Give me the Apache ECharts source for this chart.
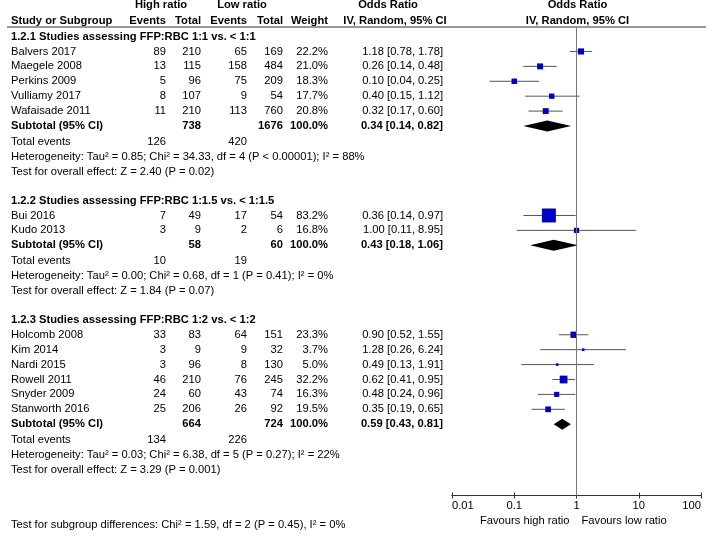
<!DOCTYPE html>
<html><head><meta charset="utf-8">
<script src="https://cdn.jsdelivr.net/npm/echarts@6/dist/echarts.min.js"></script>
<style>html,body{margin:0;padding:0;background:#fff}#c{width:709px;height:537px}</style>
</head><body><div id="c"></div>
<script>
// ---------- data ----------
const tickValues = [0.01, 0.1, 1, 10, 100];
const tickLabels = ['0.01', '0.1', '1', '10', '100'];

const groupTitles = [
  '1.2.1 Studies assessing FFP:RBC 1:1 vs. < 1:1',
  '1.2.2 Studies assessing FFP:RBC 1:1.5 vs. < 1:1.5',
  '1.2.3 Studies assessing FFP:RBC 1:2 vs. < 1:2'
];

const names1 = ['Balvers 2017', 'Maegele 2008', 'Perkins 2009', 'Vulliamy 2017', 'Wafaisade 2011'];
const hiEvents1 = [89, 13, 5, 8, 11];
const hiTotal1 = [210, 115, 96, 107, 210];
const loEvents1 = [65, 158, 75, 9, 113];
const loTotal1 = [169, 484, 209, 54, 760];
const weight1 = [22.2, 21.0, 18.3, 17.7, 20.8];
const or1 = [1.18, 0.26, 0.10, 0.40, 0.32];
const ciLo1 = [0.78, 0.14, 0.04, 0.15, 0.17];
const ciHi1 = [1.78, 0.48, 0.25, 1.12, 0.60];

const names2 = ['Bui 2016', 'Kudo 2013'];
const hiEvents2 = [7, 3];
const hiTotal2 = [49, 9];
const loEvents2 = [17, 2];
const loTotal2 = [54, 6];
const weight2 = [83.2, 16.8];
const or2 = [0.36, 1.00];
const ciLo2 = [0.14, 0.11];
const ciHi2 = [0.97, 8.95];

const names3 = ['Holcomb 2008', 'Kim 2014', 'Nardi 2015', 'Rowell 2011', 'Snyder 2009', 'Stanworth 2016'];
const hiEvents3 = [33, 3, 3, 46, 24, 25];
const hiTotal3 = [83, 9, 96, 210, 60, 206];
const loEvents3 = [64, 9, 8, 76, 43, 26];
const loTotal3 = [151, 32, 130, 245, 74, 92];
const weight3 = [23.3, 3.7, 5.0, 32.2, 16.3, 19.5];
const or3 = [0.90, 1.28, 0.49, 0.62, 0.48, 0.35];
const ciLo3 = [0.52, 0.26, 0.13, 0.41, 0.24, 0.19];
const ciHi3 = [1.55, 6.24, 1.91, 0.95, 0.96, 0.65];

const subOR = [0.34, 0.43, 0.59];
const subLo = [0.14, 0.18, 0.43];
const subHi = [0.82, 1.06, 0.81];
const subHiTotal = [738, 58, 664];
const subLoTotal = [1676, 60, 724];
const totEvHi = [126, 10, 134];
const totEvLo = [420, 19, 226];
const hetTexts = [
  'Heterogeneity: Tau² = 0.85; Chi² = 34.33, df = 4 (P < 0.00001); I² = 88%',
  'Heterogeneity: Tau² = 0.00; Chi² = 0.68, df = 1 (P = 0.41); I² = 0%',
  'Heterogeneity: Tau² = 0.03; Chi² = 6.38, df = 5 (P = 0.27); I² = 22%'
];
const effectTexts = [
  'Test for overall effect: Z = 2.40 (P = 0.02)',
  'Test for overall effect: Z = 1.84 (P = 0.07)',
  'Test for overall effect: Z = 3.29 (P = 0.001)'
];
const subgroupText = 'Test for subgroup differences: Chi² = 1.59, df = 2 (P = 0.45), I² = 0%';
const favourLeft = 'Favours high ratio';
const favourRight = 'Favours low ratio';

// ---------- assemble ----------
const groups = [
  {names: names1, he: hiEvents1, ht: hiTotal1, le: loEvents1, lt: loTotal1, w: weight1, or: or1, lo: ciLo1, hi: ciHi1},
  {names: names2, he: hiEvents2, ht: hiTotal2, le: loEvents2, lt: loTotal2, w: weight2, or: or2, lo: ciLo2, hi: ciHi2},
  {names: names3, he: hiEvents3, ht: hiTotal3, le: loEvents3, lt: loTotal3, w: weight3, or: or3, lo: ciLo3, hi: ciHi3}
];

const FONT = '"Liberation Sans", Arial, sans-serif';
const FS = 11.2;
const col = {name: 11, he: 166, ht: 201, le: 247, lt: 283, w: 328, ort: 443};

const squares = [], ciLines = [], diamonds = [], textRows = [];
let r = -1;
groups.forEach((g, gi) => {
  textRows.push({r, x: col.name, t: groupTitles[gi], a: 'left', b: true});
  r++;
  g.names.forEach((n, i) => {
    textRows.push({r, x: col.name, t: n, a: 'left'});
    textRows.push({r, x: col.he, t: String(g.he[i]), a: 'right'});
    textRows.push({r, x: col.ht, t: String(g.ht[i]), a: 'right'});
    textRows.push({r, x: col.le, t: String(g.le[i]), a: 'right'});
    textRows.push({r, x: col.lt, t: String(g.lt[i]), a: 'right'});
    textRows.push({r, x: col.w, t: g.w[i].toFixed(1) + '%', a: 'right'});
    textRows.push({r, x: col.ort, t: g.or[i].toFixed(2) + ' [' + g.lo[i].toFixed(2) + ', ' + g.hi[i].toFixed(2) + ']', a: 'right'});
    squares.push([g.or[i], r, g.w[i]]);
    ciLines.push([g.lo[i], g.hi[i], r]);
    r++;
  });
  textRows.push({r, x: col.name, t: 'Subtotal (95% CI)', a: 'left', b: true});
  textRows.push({r, x: col.ht, t: String(subHiTotal[gi]), a: 'right', b: true});
  textRows.push({r, x: col.lt, t: String(subLoTotal[gi]), a: 'right', b: true});
  textRows.push({r, x: col.w, t: '100.0%', a: 'right', b: true});
  textRows.push({r, x: col.ort, t: subOR[gi].toFixed(2) + ' [' + subLo[gi].toFixed(2) + ', ' + subHi[gi].toFixed(2) + ']', a: 'right', b: true});
  diamonds.push([subOR[gi], subLo[gi], subHi[gi], r]);
  r++;
  textRows.push({r: r + 0.08, x: col.name, t: 'Total events', a: 'left'});
  textRows.push({r: r + 0.08, x: col.he, t: String(totEvHi[gi]), a: 'right'});
  textRows.push({r: r + 0.08, x: col.le, t: String(totEvLo[gi]), a: 'right'});
  r++;
  textRows.push({r: r + 0.05, x: col.name, t: hetTexts[gi], a: 'left'});
  r++;
  textRows.push({r: r + 0.05, x: col.name, t: effectTexts[gi], a: 'left'});
  r += 2;
});

const chart = echarts.init(document.getElementById('c'), null, {renderer: 'canvas'});

const xAxisBase = {
  type: 'log', logBase: 10, min: 0.01, max: 100, gridIndex: 0, position: 'bottom',
  axisLine: {show: true, onZero: false, lineStyle: {color: '#333', width: 1}},
  splitLine: {show: false}, minorTick: {show: false}
};

chart.setOption({
  animation: false,
  backgroundColor: '#fff',
  grid: [{left: 452, right: 8, top: 27, bottom: 41.5, containLabel: false, outerBoundsMode: 'none'}],
  xAxis: [
    Object.assign({}, xAxisBase, {
      axisTick: {show: true, length: 3, inside: false, lineStyle: {color: '#333'}},
      axisLabel: {show: true, margin: 5, color: '#000', fontFamily: FONT, fontSize: FS,
        hideOverlap: false, showMinLabel: true, showMaxLabel: true,
        alignMinLabel: 'left', alignMaxLabel: 'right',
        formatter: v => { const k = tickValues.findIndex(t => Math.abs(Math.log10(t) - Math.log10(v)) < 1e-6); return k >= 0 ? tickLabels[k] : ''; }}
    }),
    Object.assign({}, xAxisBase, {
      offset: 0,
      axisTick: {show: true, length: 3, inside: true, lineStyle: {color: '#333'}},
      axisLabel: {show: false}
    })
  ],
  yAxis: [{type: 'value', min: -1.64, max: 29.78, inverse: true, show: false, splitLine: {show: false}}],
  series: [
    {
      type: 'custom', name: 'ci', coordinateSystem: 'cartesian2d', clip: false,
      data: ciLines,
      renderItem: (params, api) => {
        const a = api.coord([api.value(0), api.value(2)]);
        const b = api.coord([api.value(1), api.value(2)]);
        return {type: 'line', shape: {x1: a[0], y1: a[1], x2: b[0], y2: b[1]},
          style: {stroke: '#555', lineWidth: 1}};
      },
      markLine: {
        silent: true, symbol: ['none', 'none'], label: {show: false},
        lineStyle: {color: '#777', width: 1, type: 'solid'},
        data: [{xAxis: 1}]
      },
      z: 2
    },
    {
      type: 'scatter', name: 'studies', symbol: 'rect',
      data: squares,
      symbolSize: v => Math.max(2.6, 0.9 * Math.pow(v[2], 0.62)),
      itemStyle: {color: '#0000c4', opacity: 1},
      z: 3
    },
    {
      type: 'custom', name: 'subtotals', coordinateSystem: 'cartesian2d', clip: false,
      data: diamonds,
      renderItem: (params, api) => {
        const c = api.coord([api.value(0), api.value(3)]);
        const l = api.coord([api.value(1), api.value(3)]);
        const h = api.coord([api.value(2), api.value(3)]);
        const hh = 5.5;
        return {type: 'polygon', shape: {points: [[l[0], c[1]], [c[0], c[1] - hh], [h[0], c[1]], [c[0], c[1] + hh]]},
          style: {fill: '#000'}};
      },
      z: 4
    }
  ]
});

// ---------- text table (y from the chart's own row scale) ----------
const rowY = v => chart.convertToPixel({yAxisIndex: 0}, v);
const colX = v => chart.convertToPixel({xAxisIndex: 0}, v);
const mk = (x, y, t, align, bold) => ({
  type: 'text', x: x, y: y, silent: true,
  style: {text: t, fill: '#000', font: (bold ? 'bold ' : '') + FS + 'px ' + FONT,
    align: align, textAlign: align, verticalAlign: 'middle', textVerticalAlign: 'middle'}
});
const g = [];
const h1 = rowY(-3.09), h2 = rowY(-2.08);
g.push(mk(161, h1, 'High ratio', 'center', true));
g.push(mk(242, h1, 'Low ratio', 'center', true));
g.push(mk(388, h1, 'Odds Ratio', 'center', true));
g.push(mk(colX(1) + 1, h1, 'Odds Ratio', 'center', true));
g.push(mk(col.name, h2, 'Study or Subgroup', 'left', true));
g.push(mk(col.he, h2, 'Events', 'right', true));
g.push(mk(col.ht, h2, 'Total', 'right', true));
g.push(mk(col.le, h2, 'Events', 'right', true));
g.push(mk(col.lt, h2, 'Total', 'right', true));
g.push(mk(col.w, h2, 'Weight', 'right', true));
g.push(mk(395, h2, 'IV, Random, 95% CI', 'center', true));
g.push(mk(colX(1) + 1, h2, 'IV, Random, 95% CI', 'center', true));
const topY = rowY(-1.64);
g.push({type: 'line', silent: true, shape: {x1: 7, y1: topY, x2: 706, y2: topY}, style: {stroke: '#333', lineWidth: 1}});
textRows.forEach(t => g.push(mk(t.x, rowY(t.r), t.t, t.a, t.b)));
const fy = rowY(31.5);
g.push(mk(colX(1) - 7, fy, favourLeft, 'right', false));
g.push(mk(colX(1) + 5, fy, favourRight, 'left', false));
g.push(mk(col.name, rowY(31.72), subgroupText, 'left', false));
chart.setOption({graphic: g});
</script>
</body></html>
